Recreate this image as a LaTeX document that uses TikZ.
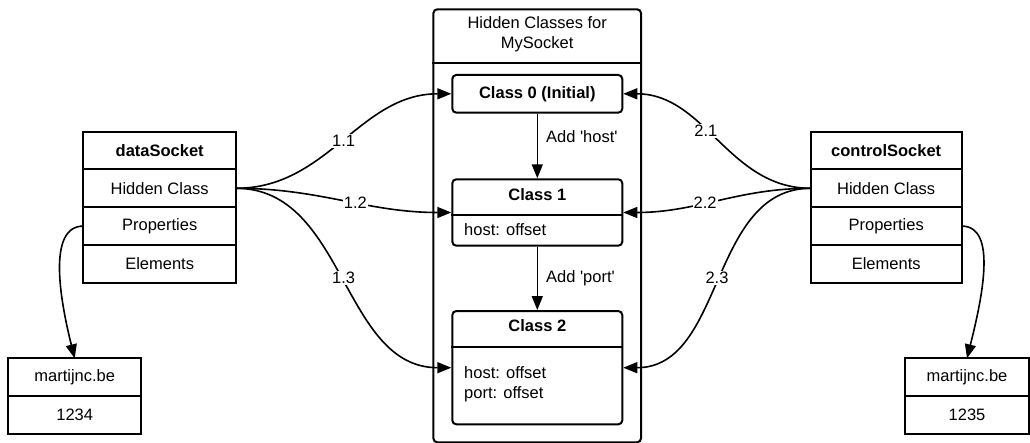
\documentclass[tikz,border=0pt]{standalone}
\usepackage{fontspec}
\setmainfont{Liberation Sans}
\usetikzlibrary{arrows.meta}
\newcommand\dfont{\fontsize{16.5}{20}\selectfont}
\begin{document}
\begin{tikzpicture}[x=1pt,y=-1pt,
  every node/.style={font=\dfont},
  row/.style={draw, line width=2pt, minimum height=37.7pt, inner sep=0pt, outer sep=0pt},
  cls/.style={draw, rounded corners=4pt, line width=2pt, minimum width=170pt, inner sep=0pt},
  conn/.style={line width=1.6pt, -{Triangle[length=14pt,width=11pt]}},
  lbl/.style={fill=white, inner sep=1pt},
  txt/.style={inner sep=0pt}]
\useasboundingbox (0,0) rectangle (1030,443);

% left object
\node[row, minimum width=152.7pt] (dsName) at (159.7,150.5) {\textbf{dataSocket}};
\node[row, minimum width=152.7pt] (dsHidden) at (159.7,188.3) {Hidden Class};
\node[row, minimum width=152.7pt] (dsProps) at (159.7,226.1) {Properties};
\node[row, minimum width=152.7pt] (dsElems) at (159.7,263.9) {Elements};

% right object
\node[row, minimum width=151pt] (csName) at (886.2,150.5) {\textbf{controlSocket}};
\node[row, minimum width=151pt] (csHidden) at (886.2,188.3) {Hidden Class};
\node[row, minimum width=151pt] (csProps) at (886.2,226.1) {Properties};
\node[row, minimum width=151pt] (csElems) at (886.2,263.9) {Elements};

% property stores
\node[row, minimum width=132.7pt] (dsMart) at (74.7,377.2) {martijnc.be};
\node[row, minimum width=132.7pt] (dsNum) at (74.7,414.7) {1234};
\node[row, minimum width=124pt] (csMart) at (967,377.2) {martijnc.be};
\node[row, minimum width=124pt] (csNum) at (967,414.7) {1235};

% container
\node[draw, rounded corners=4pt, line width=2pt, minimum width=207.7pt, minimum height=433pt, inner sep=0pt] (ctr) at (537.2,225.8) {};
\draw[line width=2pt] (ctr.west |- 0,63.3) -- (ctr.east |- 0,63.3);
\node[align=center, inner sep=0pt] (hdr) at (537.2,34) {Hidden Classes for\\MySocket};

% classes
\node[cls, minimum height=37.7pt] (c0) at (537.3,93.8) {\textbf{Class 0 (Initial)}};

\node[cls, minimum height=66.4pt] (c1) at (537.3,212.5) {};
\node[txt] (c1t) at (537.3,194.5) {\textbf{Class 1}};
\draw[line width=2pt] (c1.west |- 0,215) -- (c1.east |- 0,215);
\node[txt, anchor=base west] (c1p) at (464,235.7) {host: offset};

\node[cls, minimum height=113.3pt] (c2) at (537.3,367.7) {};
\node[txt] (c2t) at (537.3,326) {\textbf{Class 2}};
\draw[line width=2pt] (c2.west |- 0,347.3) -- (c2.east |- 0,347.3);
\node[txt, anchor=base west] (c2p1) at (464,378.5) {host: offset};
\node[txt, anchor=base west] (c2p2) at (464,398.5) {port: offset};

% transitions
\draw[conn] (c0.south) -- node[pos=0.35, anchor=west, inner sep=0pt, xshift=8pt] {Add \textquotesingle host\textquotesingle} (c1.north);
\draw[conn] (c1.south) -- node[pos=0.5, anchor=west, inner sep=0pt, xshift=8pt] {Add \textquotesingle port\textquotesingle} (c2.north);

% hidden class pointers
\draw[conn] (dsHidden.east) to[out=0,in=180] node[lbl,pos=0.5] {1.1} (c0.west);
\draw[conn] (dsHidden.east) to[out=0,in=180] node[lbl,pos=0.56] {1.2} (c1.west);
\draw[conn] (dsHidden.east) to[out=0,in=180] node[lbl,pos=0.5] {1.3} (c2.west);
\draw[conn] (csHidden.west) to[out=180,in=0] node[lbl,pos=0.57] {2.1} (c0.east);
\draw[conn] (csHidden.west) to[out=180,in=0] node[lbl,pos=0.57] {2.2} (c1.east);
\draw[conn] (csHidden.west) to[out=180,in=0] node[lbl,pos=0.5] {2.3} (c2.east);

% property pointers
\draw[conn] (dsProps.west) .. controls +(-36,0) and +(-15,-60) .. (dsMart.north);
\draw[conn] (csProps.east) .. controls +(36,0) and +(15,-60) .. (csMart.north);
\end{tikzpicture}
\end{document}
